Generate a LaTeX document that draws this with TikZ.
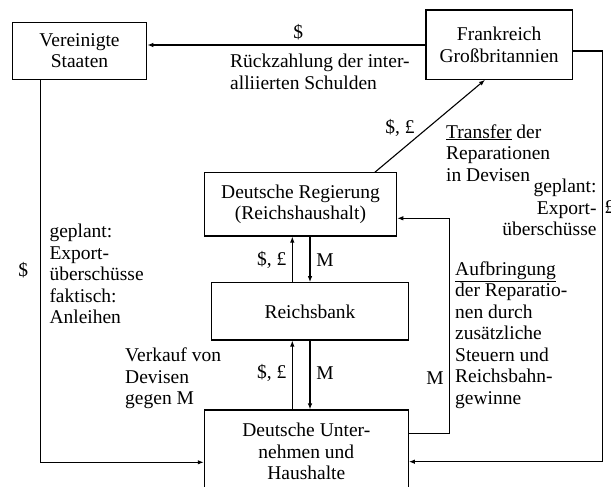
\documentclass[tikz,border=0pt]{standalone}
\usepackage{fontspec}
\setmainfont{Liberation Serif}
\usetikzlibrary{arrows.meta}
\begin{document}
\begin{tikzpicture}[x=1pt,y=-1pt,
  font=\fontsize{19.5}{21.5}\selectfont,
  box/.style={draw, line width=1.1pt, align=center, inner sep=0pt},
  flow/.style={line width=1.1pt, -{Latex[length=6pt,width=4.5pt]}},
  lbl/.style={inner sep=0pt, align=left}]
\useasboundingbox (0,0) rectangle (611,487);
\node[box, minimum width=134.4pt, minimum height=57pt] (us) at (79.5,50.8) {Vereinigte\\Staaten};
\node[box, minimum width=146.3pt, minimum height=69.3pt] (fg) at (499.15,44.65) {Frankreich\\Großbritannien};
\node[box, minimum width=192.4pt, minimum height=63.3pt] (reg) at (300.5,204.35) {Deutsche Regierung\\(Reichshaushalt)};
\node[box, minimum width=196.6pt, minimum height=57.3pt] (bank) at (310,311.35) {Reichsbank};
\node[box, minimum width=204pt, minimum height=83.4pt] (unt) at (306.3,451.7) {Deutsche Unter-\\nehmen und\\Haushalte};
\draw[flow] (fg.west |- 0,45) -- (us.east |- 0,45);
\draw[flow] (fg.east |- 0,51) -- ++(29.6,0) |- (unt.east |- 0,461.7);
\draw[flow] (us.south -| 40.7,0) |- (unt.west |- 0,462.3);
\draw[flow] (reg.north -| 375,0) -- (fg.south -| 485,0);
\draw[flow] (unt.east |- 0,433.3) -- ++(40.7,0) |- (reg.east |- 0,218.3);
\draw[flow] (bank.north -| 292.3,0) -- (reg.south -| 292.3,0);
\draw[flow] (reg.south -| 310,0) -- (bank.north -| 310,0);
\draw[flow] (unt.north -| 292.3,0) -- (bank.south -| 292.3,0);
\draw[flow] (bank.south -| 310,0) -- (unt.north -| 310,0);
\node[lbl] (usd) at (298.3,31.7) {\$};
\node[lbl, anchor=west] (debt) at (230,71.7) {Rückzahlung der inter-\\alliierten Schulden};
\node[lbl] (fx) at (400,128.3) {\$, £};
\node[lbl, anchor=west] (transfer) at (446,152.8) {\underline{Transfer} der\\Reparationen\\in Devisen};
\node[lbl, align=right, anchor=east] (planr) at (596.7,207.5) {geplant:\\Export-\\überschüsse};
\node[lbl, anchor=west] (gbp) at (604.5,207) {£};
\node[lbl] (usdl) at (23.3,270) {\$};
\node[lbl, anchor=west] (planl) at (49.3,274.2) {geplant:\\Export-\\überschüsse\\faktisch:\\Anleihen};
\node[lbl] (fxa) at (271.7,260) {\$, £};
\node[lbl] (ma) at (325,260) {M};
\node[lbl] (fxb) at (271.7,373) {\$, £};
\node[lbl] (mb) at (325,373) {M};
\node[lbl, anchor=west] (sell) at (125,378.3) {Verkauf von\\Devisen\\gegen M};
\node[lbl] (mc) at (435,378.3) {M};
\node[lbl, anchor=west] (raise) at (455,335) {\underline{Aufbringung}\\der Reparatio-\\nen durch\\zusätzliche\\Steuern und\\Reichsbahn-\\gewinne};
\end{tikzpicture}
\end{document}
